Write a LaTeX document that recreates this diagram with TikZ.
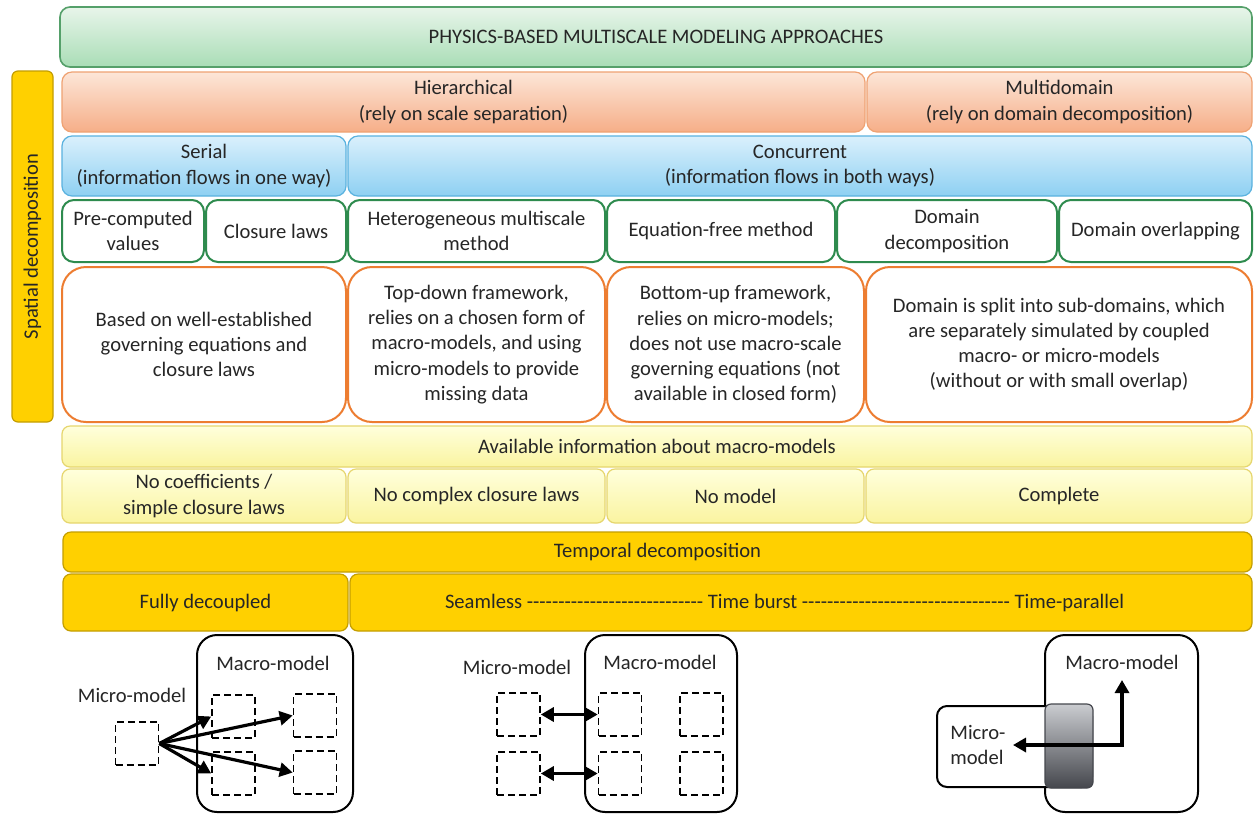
\documentclass[tikz,border=0pt]{standalone}
\usepackage{fontspec}
\setmainfont{Carlito}
\usetikzlibrary{
  arrows.meta,
  positioning,
  calc,
}
\definecolor{ink}{HTML}{262626}
\definecolor{hdrTop}{HTML}{E8F5EA}
\definecolor{hdrBot}{HTML}{A9DDB6}
\definecolor{hdrStroke}{HTML}{55A06A}
\definecolor{tierTop}{HTML}{FCE6D8}
\definecolor{tierBot}{HTML}{F6AE88}
\definecolor{tierStroke}{HTML}{EFA273}
\definecolor{flowTop}{HTML}{DAF0FC}
\definecolor{flowBot}{HTML}{8ED0F2}
\definecolor{flowStroke}{HTML}{5AB2DF}
\definecolor{methodStroke}{HTML}{2E8B4E}
\definecolor{descStroke}{HTML}{ED7D31}
\definecolor{infoTop}{HTML}{FFFFDC}
\definecolor{infoBot}{HTML}{FAF4A0}
\definecolor{infoStroke}{HTML}{E6D66E}
\definecolor{gold}{HTML}{FFD000}
\definecolor{goldStroke}{HTML}{C49E00}
\definecolor{overTop}{HTML}{CACCD0}
\definecolor{overBot}{HTML}{45474D}
% a run of plain hyphens (no en/em dash ligatures)
\newcount\dashcnt
\newcommand{\dashrun}[1]{\dashcnt=#1\relax\loop-{}\advance\dashcnt by -1\ifnum\dashcnt>0\repeat}
\tikzset{
  every node/.style={
    font=\fontsize{10.3}{12.6}\selectfont,
    text=ink,
    align=center,
    inner sep=2pt,
  },
  header/.style={
    rectangle, rounded corners=5pt,
    draw=hdrStroke, line width=0.8pt,
    top color=hdrTop, bottom color=hdrBot,
    minimum height=30pt,
  },
  tier/.style={
    rectangle, rounded corners=5pt,
    draw=tierStroke, line width=0.6pt,
    top color=tierTop, bottom color=tierBot,
    minimum height=30pt,
  },
  flowrow/.style={
    rectangle, rounded corners=5pt,
    draw=flowStroke, line width=0.6pt,
    top color=flowTop, bottom color=flowBot,
    minimum height=30pt,
  },
  method/.style={
    rectangle, rounded corners=6pt,
    draw=methodStroke, line width=1pt,
    fill=white,
    minimum height=31pt,
  },
  descr/.style={
    rectangle, rounded corners=12pt,
    draw=descStroke, line width=1pt,
    fill=white,
    minimum height=77.5pt,
  },
  infohead/.style={
    rectangle, rounded corners=4pt,
    draw=infoStroke, line width=0.6pt,
    top color=infoTop, bottom color=infoBot,
    minimum height=20.5pt,
  },
  info/.style={
    infohead,
    minimum height=27pt,
  },
  timehead/.style={
    rectangle, rounded corners=4pt,
    draw=goldStroke, line width=0.6pt,
    fill=gold,
    minimum height=20pt,
  },
  timecell/.style={
    timehead,
    minimum height=28.5pt,
  },
  macrobox/.style={
    rectangle, rounded corners=10pt,
    draw=black, line width=1pt,
    minimum width=77pt, minimum height=88.5pt,
  },
  sub/.style={
    rectangle, draw=black, line width=0.8pt,
    dashed, dash pattern=on 3.5pt off 2pt,
    minimum size=21.5pt, inner sep=0pt,
  },
  link/.style={
    -{Triangle[length=6.5pt,width=7pt]},
    draw=black, line width=1.6pt,
  },
  twoway/.style={
    {Triangle[length=6.5pt,width=7pt]}-{Triangle[length=6.5pt,width=7pt]},
    draw=black, line width=1.6pt,
  },
}

\begin{document}
\begin{tikzpicture}[x=0.5pt, y=-0.5pt]

% pixel grid: x in [0,1254], y in [0,816] top-down
\useasboundingbox (0,0) rectangle (1254,816);
\fill[white] (0,0) rectangle (1254,816);

% ----- title and spatial bar -----
\node[header, minimum width=596pt] (title) at (656,37)
  {PHYSICS-BASED MULTISCALE MODELING APPROACHES};
\node[timehead, rotate=90, minimum width=175.5pt, minimum height=20.5pt,
  rounded corners=3pt] (spatial) at (32.5,246.5) {Spatial decomposition};

% ----- hierarchical / multidomain -----
\node[tier, minimum width=401.5pt] (hier)  at (463.5,102)
  {Hierarchical\\(rely on scale separation)};
\node[tier, minimum width=192.5pt] (multi) at (1059.5,102)
  {Multidomain\\(rely on domain decomposition)};

% ----- serial / concurrent -----
\node[flowrow, minimum width=142pt] (serial) at (204,166)
  {Serial\\(information flows in one way)};
\node[flowrow, minimum width=452pt] (concur) at (800,166)
  {Concurrent\\(information flows in both ways)};

% ----- methods -----
\node[method, minimum width=71pt]    (precomp) at (133,231)    {Pre-computed\\values};
\node[method, minimum width=70pt]    (closure) at (276,231)    {Closure laws};
\node[method, minimum width=128.5pt] (hmm)     at (476.5,231)  {Heterogeneous multiscale\\method};
\node[method, minimum width=114pt]   (eqfree)  at (721,231)    {Equation-free method};
\node[method, minimum width=110pt]   (domdec)  at (947,231)    {Domain\\decomposition};
\node[method, minimum width=96.5pt]  (domover) at (1155.5,231) {Domain overlapping};

% ----- descriptions -----
\node[descr, minimum width=142pt]   (dserial) at (204,344.5)
  {Based on well-established\\governing equations and\\closure laws};
\node[descr, minimum width=128.5pt] (dhmm)    at (476.5,344.5)
  {Top-down framework,\\relies on a chosen form of\\macro-models, and using\\micro-models to provide\\missing data};
\node[descr, minimum width=128.5pt] (deqfree) at (735.5,344.5)
  {Bottom-up framework,\\relies on micro-models;\\does not use macro-scale\\governing equations (not\\available in closed form)};
\node[descr, minimum width=193pt]   (dmulti)  at (1059,344.5)
  {Domain is split into sub-domains, which\\are separately simulated by coupled\\macro- or micro-models\\(without or with small overlap)};

% ----- available information -----
\node[infohead, minimum width=595pt] (avail) at (657,446.5)
  {Available information about macro-models};
\node[info, minimum width=142pt]   (icoef)  at (204,496)    {No coefficients /\\simple closure laws};
\node[info, minimum width=128.5pt] (iclos)  at (476.5,496)  {No complex closure laws};
\node[info, minimum width=128.5pt] (inone)  at (735.5,496)  {No model};
\node[info, minimum width=193pt]   (ifull)  at (1059,496)   {Complete};

% ----- temporal decomposition -----
\node[timehead, minimum width=594.5pt] (temporal) at (657.5,552) {Temporal decomposition};
\node[timecell, minimum width=142.5pt] (decoupled) at (205.5,602.5) {Fully decoupled};
\node[timecell, minimum width=451pt, align=flush left, text width=356pt,
  inner xsep=47.5pt] (seamless) at (801,602.5)
  {Seamless \dashrun{27} Time burst \dashrun{32} Time-parallel};

% ----- sketch 1: serial -----
\node[macrobox, minimum width=78pt] (macroA) at (275,723.5) {};
\node (macroAlbl) at (273,663) {Macro-model};
\node (microAlbl) at (132,695) {Micro-model};
\node[sub] (microA) at (137,743.5) {};
\node[sub] (a11) at (233.5,716.5) {};
\node[sub] (a21) at (233.5,773.5) {};
\node[sub] (a12) at (315,715.5) {};
\node[sub] (a22) at (315,772.5) {};
\draw[link] (microA.east) -- (a11.west);
\draw[link] (microA.east) -- (a21.west);
\draw[link] (microA.east) -- (a12.west);
\draw[link] (microA.east) -- (a22.west);

% ----- sketch 2: concurrent -----
\node[macrobox, minimum width=76pt] (macroB) at (661,723.5) {};
\node (macroBlbl) at (660,662) {Macro-model};
\node (microBlbl) at (517,667) {Micro-model};
\node[sub] (b1) at (518.5,714.5) {};
\node[sub] (b2) at (518.5,773.5) {};
\node[sub] (b11) at (620,714.5) {};
\node[sub] (b21) at (620,773.5) {};
\node[sub] (b12) at (701.5,714.5) {};
\node[sub] (b22) at (701.5,773.5) {};
\draw[twoway] (b1.east) -- (b11.west);
\draw[twoway] (b2.east) -- (b21.west);

% ----- sketch 3: multidomain -----
\node[macrobox, minimum width=76.5pt] (macroC) at (1121.5,723.5) {};
\node (macroClbl) at (1122,662) {Macro-model};
\node[rectangle, rounded corners=5pt, draw=black, line width=1pt, fill=white,
  minimum width=77.5pt, minimum height=40.5pt] (microC) at (1014.5,746.5) {};
\node[rectangle, rounded corners=3pt, draw=overBot, line width=0.6pt,
  top color=overTop, bottom color=overBot,
  minimum width=24pt, minimum height=42pt] (overlap) at (1069,746) {};
\node[align=left, anchor=west] (microClbl) at (946,745) {Micro-\\model};
\coordinate (cLeft) at (1013,745);
\coordinate (cUp)   at (1122,680);
\draw[twoway] (cLeft) -| (cUp);

\end{tikzpicture}
\end{document}
